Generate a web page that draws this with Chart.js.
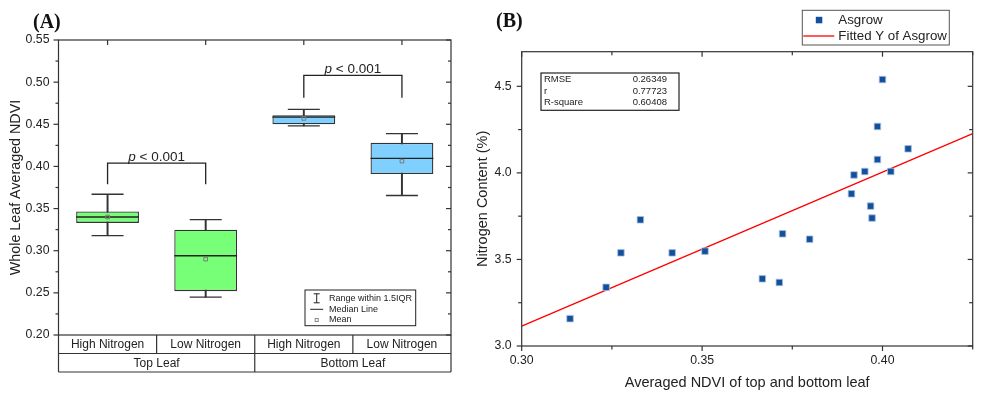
<!DOCTYPE html>
<html>
<head>
<meta charset="utf-8">
<script src="https://cdn.jsdelivr.net/npm/chart.js@4.4.0/dist/chart.umd.min.js"></script>
<style>
	body { margin: 0; background: #fff; }
	#wrap { position: relative; width: 988px; height: 397px; }
	canvas { position: absolute; top: 0; }
	#chartA { left: 0; }
	#chartB { left: 460px; }
</style>
</head>
<body>
<div id="wrap">
	<canvas id="chartA" width="460" height="397"></canvas>
	<canvas id="chartB" width="528" height="397"></canvas>
</div>
<script>
// ---- panel A : box plot ----
const boxLabels = ['High Nitrogen', 'Low Nitrogen', 'High Nitrogen', 'Low Nitrogen'];
const leafGroups = ['Top Leaf', 'Bottom Leaf'];
const whiskerLow = [0.318, 0.245, 0.448, 0.3655];
const q1 = [0.333, 0.252, 0.450, 0.391];
const medians = [0.340, 0.294, 0.4585, 0.4095];
const q3 = [0.3466, 0.325, 0.4606, 0.428];
const whiskerHigh = [0.367, 0.337, 0.4677, 0.439];
const means = [0.340, 0.290, 0.457, 0.4063];
const boxColors = ['#77ff77', '#77ff77', '#80d0ff', '#80d0ff'];
const aYTicks = [0.20, 0.25, 0.30, 0.35, 0.40, 0.45, 0.50, 0.55];
const aYMinor = [0.225, 0.275, 0.325, 0.375, 0.425, 0.475, 0.525];
// significance brackets
const sigPairs = [[0, 1], [2, 3]];
const sigTop = [0.404, 0.508];
const sigLeg = [0.379, 0.4815];
const sigText = ['< 0.001', '< 0.001'];

// ---- panel B : scatter + linear fit ----
const ndvi = [0.4000, 0.3986, 0.4071, 0.3986, 0.4023, 0.3951, 0.3921, 0.3914, 0.3967, 0.3971,
	0.3329, 0.3723, 0.3798, 0.3275, 0.3417, 0.3508, 0.3667, 0.3714, 0.3234, 0.3134];
const nitrogen = [4.539, 4.268, 4.139, 4.077, 4.008, 4.008, 3.988, 3.879, 3.808, 3.739,
	3.729, 3.648, 3.617, 3.538, 3.538, 3.548, 3.388, 3.367, 3.339, 3.158];
const fitX = [0.30, 0.425];
const fitY = [3.115, 4.227];
const statNames = ['RMSE', 'r', 'R-square'];
const statValues = ['0.26349', '0.77723', '0.60408'];
const bXTicks = [0.30, 0.35, 0.40];
const bXMinor = [0.325, 0.375, 0.425];
const bYTicks = [3.0, 3.5, 4.0, 4.5];
const bYMinor = [3.25, 3.75, 4.25];

const FONT = "'Liberation Sans', Arial, sans-serif";
Chart.defaults.font.family = FONT;
Chart.defaults.color = '#222';
Chart.defaults.animation = false;

function line(ctx, x1, y1, x2, y2) {
	ctx.beginPath();
	ctx.moveTo(x1, y1);
	ctx.lineTo(x2, y2);
	ctx.stroke();
}

function text(ctx, str, x, y, size, align, style) {
	ctx.font = (style || '') + ' ' + size + 'px ' + FONT;
	ctx.textAlign = align || 'left';
	ctx.textBaseline = 'middle';
	ctx.fillStyle = '#222';
	ctx.fillText(str, x, y);
}

function panelLabel(ctx, str, x, y) {
	ctx.font = "bold 20px 'Liberation Serif', 'Times New Roman', serif";
	ctx.textAlign = 'left';
	ctx.textBaseline = 'alphabetic';
	ctx.fillStyle = '#111';
	ctx.fillText(str, x, y);
}

// frame, ticks, category table, brackets, legend
const boxExtras = {
	id: 'boxExtras',
	afterDraw(chart) {
		const { ctx, chartArea: a, scales: { x, y } } = chart;
		ctx.save();
		ctx.strokeStyle = '#333';
		ctx.lineWidth = 1.2;
		ctx.strokeRect(a.left, a.top, a.width, a.height);

		// y ticks: outward on the left, inward on the right
		aYTicks.forEach((v) => {
			const py = y.getPixelForValue(v);
			line(ctx, a.left - 5, py, a.left, py);
			line(ctx, a.right - 5, py, a.right, py);
		});
		aYMinor.forEach((v) => {
			const py = y.getPixelForValue(v);
			line(ctx, a.left - 3, py, a.left, py);
			line(ctx, a.right - 3, py, a.right, py);
		});
		boxLabels.forEach((l, i) => {
			const px = x.getPixelForValue(i);
			line(ctx, px, a.top, px, a.top + 5);
		});

		// two-row category table under the plot
		const rowH = 18.5;
		const r1 = a.bottom + rowH;
		const r2 = a.bottom + rowH * 2;
		const edge = (i) => {
			if (i <= 0) return a.left;
			if (i >= boxLabels.length) return a.right;
			return (x.getPixelForValue(i - 1) + x.getPixelForValue(i)) / 2;
		};
		line(ctx, a.left, r1, a.right, r1);
		line(ctx, a.left, r2, a.right, r2);
		line(ctx, a.left, a.bottom, a.left, r2);
		line(ctx, a.right, a.bottom, a.right, r2);
		for (let i = 1; i < boxLabels.length; i++) {
			line(ctx, edge(i), a.bottom, edge(i), i % 2 === 0 ? r2 : r1);
		}
		boxLabels.forEach((l, i) => {
			text(ctx, l, x.getPixelForValue(i), a.bottom + rowH / 2 + 0.5, 12, 'center');
		});
		leafGroups.forEach((g, k) => {
			text(ctx, g, (edge(k * 2) + edge(k * 2 + 2)) / 2, r1 + rowH / 2 + 0.5, 12, 'center');
		});

		// significance brackets
		ctx.lineWidth = 1.3;
		ctx.strokeStyle = '#222';
		sigPairs.forEach((p, k) => {
			const x1 = x.getPixelForValue(p[0]);
			const x2 = x.getPixelForValue(p[1]);
			const yt = y.getPixelForValue(sigTop[k]);
			const yl = y.getPixelForValue(sigLeg[k]);
			ctx.beginPath();
			ctx.moveTo(x1, yl);
			ctx.lineTo(x1, yt);
			ctx.lineTo(x2, yt);
			ctx.lineTo(x2, yl);
			ctx.stroke();
			ctx.font = 'italic 13.5px ' + FONT;
			const wp = ctx.measureText('p ').width;
			ctx.font = '13.5px ' + FONT;
			const wr = ctx.measureText(sigText[k]).width;
			const sx = (x1 + x2) / 2 - (wp + wr) / 2;
			ctx.textBaseline = 'alphabetic';
			ctx.textAlign = 'left';
			ctx.fillStyle = '#222';
			ctx.font = 'italic 13.5px ' + FONT;
			ctx.fillText('p ', sx, yt - 2.5);
			ctx.font = '13.5px ' + FONT;
			ctx.fillText(sigText[k], sx + wp, yt - 2.5);
		});

		// legend box
		const lx = a.right - 146;
		const ly = a.bottom - 45;
		ctx.lineWidth = 1;
		ctx.strokeStyle = '#222';
		ctx.strokeRect(lx, ly, 110.7, 35.7);
		const sx = lx + 11.7;
		const rows = [ly + 8.3, ly + 19.3, ly + 30];
		line(ctx, sx, rows[0] - 4.5, sx, rows[0] + 4.5);
		line(ctx, sx - 3, rows[0] - 4.5, sx + 3, rows[0] - 4.5);
		line(ctx, sx - 3, rows[0] + 4.5, sx + 3, rows[0] + 4.5);
		line(ctx, sx - 6.5, rows[1], sx + 6.5, rows[1]);
		ctx.strokeStyle = '#888';
		ctx.strokeRect(sx - 1.5, rows[2] - 1.5, 3, 3);
		text(ctx, 'Range within 1.5IQR', lx + 24, rows[0], 9);
		text(ctx, 'Median Line', lx + 24, rows[1], 9);
		text(ctx, 'Mean', lx + 24, rows[2], 9);

		panelLabel(ctx, '(A)', 33, 28);
		ctx.restore();
	},
};

const chartA = new Chart(document.getElementById('chartA'), {
	type: 'bar',
	data: {
		labels: boxLabels,
		datasets: [
			{
				type: 'line',
				label: 'Mean',
				data: means,
				showLine: false,
				pointStyle: 'rect',
				pointRadius: 2.6,
				pointBackgroundColor: 'rgba(0,0,0,0)',
				pointBorderColor: '#7a7a7a',
				pointBorderWidth: 1,
				order: 0,
			},
			{
				type: 'line',
				label: 'Median',
				data: medians,
				showLine: false,
				pointStyle: 'line',
				pointRadius: 31.4,
				pointBorderColor: '#222',
				pointBorderWidth: 1.3,
				order: 1,
			},
			{
				type: 'line',
				label: 'Upper cap',
				data: whiskerHigh,
				showLine: false,
				pointStyle: 'line',
				pointRadius: 16,
				pointBorderColor: '#333',
				pointBorderWidth: 1.3,
				order: 2,
			},
			{
				type: 'line',
				label: 'Lower cap',
				data: whiskerLow,
				showLine: false,
				pointStyle: 'line',
				pointRadius: 16,
				pointBorderColor: '#333',
				pointBorderWidth: 1.3,
				order: 2,
			},
			{
				type: 'bar',
				label: 'Box',
				data: q1.map((v, i) => [v, q3[i]]),
				backgroundColor: boxColors,
				borderColor: '#333',
				borderWidth: 1.3,
				borderSkipped: false,
				barPercentage: 0.64,
				categoryPercentage: 1,
				grouped: false,
				order: 3,
			},
			{
				type: 'bar',
				label: 'Whisker',
				data: whiskerLow.map((v, i) => [v, whiskerHigh[i]]),
				backgroundColor: '#333',
				barThickness: 1.3,
				grouped: false,
				order: 4,
			},
		],
	},
	options: {
		responsive: false,
		layout: { autoPadding: false, padding: { top: 40, right: 9, bottom: 0, left: 0 } },
		plugins: { legend: { display: false }, tooltip: { enabled: false } },
		scales: {
			x: {
				ticks: { display: false },
				grid: { display: false, drawTicks: false },
				border: { display: false },
				afterFit: (s) => { s.height = 62; },
			},
			y: {
				min: 0.2,
				max: 0.55,
				afterBuildTicks: (s) => { s.ticks = aYTicks.map((v) => ({ value: v })); },
				ticks: { padding: 9, font: { size: 12.3 }, callback: (v) => v.toFixed(2) },
				grid: { display: false, drawTicks: false },
				border: { display: false },
				title: {
					display: true,
					text: 'Whole Leaf Averaged NDVI',
					font: { size: 14.3 },
					padding: { top: 7.5, bottom: 0 },
				},
				afterFit: (s) => { s.width = 58.5; },
			},
		},
	},
	plugins: [boxExtras],
});

// frame, ticks, stats table, legend for panel B
const scatterExtras = {
	id: 'scatterExtras',
	afterDraw(chart) {
		const { ctx, chartArea: a, scales: { x, y } } = chart;
		const ds = chart.data.datasets;
		ctx.save();
		ctx.strokeStyle = '#333';
		ctx.lineWidth = 1.2;
		ctx.strokeRect(a.left, a.top, a.width, a.height);
		const tickX = (v, len) => {
			const px = x.getPixelForValue(v);
			line(ctx, px, a.bottom, px, a.bottom + len);
			line(ctx, px, a.top, px, a.top + len);
		};
		const tickY = (v, len) => {
			const py = y.getPixelForValue(v);
			line(ctx, a.left - len, py, a.left, py);
			line(ctx, a.right - len, py, a.right, py);
		};
		bXTicks.forEach((v) => tickX(v, 5));
		bXMinor.forEach((v) => tickX(v, 3.5));
		bYTicks.forEach((v) => tickY(v, 5));
		bYMinor.forEach((v) => tickY(v, 3.5));

		// fit statistics table
		const tx = a.left + 19.3;
		const ty = a.top + 21.3;
		ctx.lineWidth = 1.2;
		ctx.strokeStyle = '#222';
		ctx.strokeRect(tx, ty, 138, 37.3);
		statNames.forEach((n, i) => {
			const ry = ty + 6.7 + i * 11.3;
			text(ctx, n, tx + 3, ry, 9.5);
			text(ctx, statValues[i], tx + 126, ry, 9.5, 'right');
		});

		// legend
		const lx = 342.3;
		const ly = 10.3;
		ctx.lineWidth = 1;
		ctx.strokeStyle = '#555';
		ctx.strokeRect(lx, ly, 147, 34.7);
		ctx.fillStyle = ds[0].pointBackgroundColor;
		ctx.fillRect(lx + 13.5, ly + 6.5, 6.5, 6.5);
		ctx.strokeStyle = ds[1].borderColor;
		ctx.lineWidth = 1.3;
		line(ctx, lx + 1, ly + 25.7, lx + 32, ly + 25.7);
		text(ctx, ds[0].label, lx + 36, ly + 9.9, 13.3);
		text(ctx, ds[1].label, lx + 36, ly + 25.9, 13.3);

		panelLabel(ctx, '(B)', 36, 26.7);
		ctx.restore();
	},
};

const chartB = new Chart(document.getElementById('chartB'), {
	type: 'scatter',
	data: {
		datasets: [
			{
				label: 'Asgrow',
				data: ndvi.map((v, i) => ({ x: v, y: nitrogen[i] })),
				pointStyle: 'rect',
				pointRadius: 4.6,
				pointBackgroundColor: '#124f9c',
				pointBorderColor: '#a8c0e0',
				pointBorderWidth: 0.8,
				order: 0,
			},
			{
				label: 'Fitted Y of Asgrow',
				data: fitX.map((v, i) => ({ x: v, y: fitY[i] })),
				showLine: true,
				borderColor: '#ff0000',
				borderWidth: 1.3,
				pointRadius: 0,
				order: 1,
			},
		],
	},
	options: {
		responsive: false,
		layout: { autoPadding: false, padding: { top: 51.7, right: 15.3, bottom: 0, left: 0 } },
		plugins: { legend: { display: false }, tooltip: { enabled: false } },
		scales: {
			x: {
				type: 'linear',
				min: 0.30,
				max: 0.425,
				afterBuildTicks: (s) => { s.ticks = bXTicks.map((v) => ({ value: v })); },
				ticks: { padding: 7, font: { size: 12.3 }, callback: (v) => v.toFixed(2) },
				grid: { display: false, drawTicks: false },
				border: { display: false },
				title: {
					display: true,
					text: 'Averaged NDVI of top and bottom leaf',
					font: { size: 14.5 },
					padding: { top: 0, bottom: 5.3 },
				},
				afterFit: (s) => { s.height = 51; },
			},
			y: {
				min: 3.0,
				max: 4.7,
				afterBuildTicks: (s) => { s.ticks = bYTicks.map((v) => ({ value: v })); },
				ticks: { padding: 10, font: { size: 12.3 }, callback: (v) => v.toFixed(1) },
				grid: { display: false, drawTicks: false },
				border: { display: false },
				title: {
					display: true,
					text: 'Nitrogen Content (%)',
					font: { size: 14.5 },
					padding: { top: 14.3, bottom: 0 },
				},
				afterFit: (s) => { s.width = 61.7; },
			},
		},
	},
	plugins: [scatterExtras],
});
</script>
</body>
</html>
